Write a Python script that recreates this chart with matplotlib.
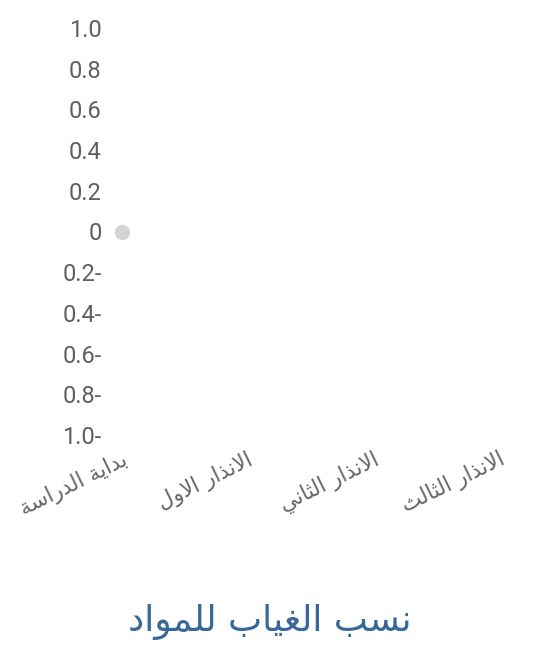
import numpy as np
import matplotlib.pyplot as plt
from matplotlib.transforms import ScaledTranslation

categories = ["بداية الدراسة", "الانذار الاول", "الانذار الثاني", "الانذار الثالث"]
values = [0, np.nan, np.nan, np.nan]
y_ticks = [1.0, 0.8, 0.6, 0.4, 0.2, 0, -0.2, -0.4, -0.6, -0.8, -1.0]
y_labels = ["1.0", "0.8", "0.6", "0.4", "0.2", "0", "0.2-", "0.4-", "0.6-", "0.8-", "1.0-"]
title = "نسب الغياب للمواد"

# contextual forms: isolated, final, initial, medial (None = does not join forward)
forms = {
    "ا": (0xFE8D, 0xFE8E, None, None),
    "ب": (0xFE8F, 0xFE90, 0xFE91, 0xFE92),
    "ة": (0xFE93, 0xFE94, None, None),
    "ت": (0xFE95, 0xFE96, 0xFE97, 0xFE98),
    "ث": (0xFE99, 0xFE9A, 0xFE9B, 0xFE9C),
    "د": (0xFEA9, 0xFEAA, None, None),
    "ذ": (0xFEAB, 0xFEAC, None, None),
    "ر": (0xFEAD, 0xFEAE, None, None),
    "س": (0xFEB1, 0xFEB2, 0xFEB3, 0xFEB4),
    "غ": (0xFECD, 0xFECE, 0xFECF, 0xFED0),
    "ل": (0xFEDD, 0xFEDE, 0xFEDF, 0xFEE0),
    "م": (0xFEE1, 0xFEE2, 0xFEE3, 0xFEE4),
    "ن": (0xFEE5, 0xFEE6, 0xFEE7, 0xFEE8),
    "و": (0xFEED, 0xFEEE, None, None),
    "ي": (0xFEF1, 0xFEF2, 0xFEF3, 0xFEF4),
    "لا": (0xFEFB, 0xFEFC, None, None),
}


def shape(text):
    # split into letters, merging lam + alef into one ligature
    letters = []
    i = 0
    while i < len(text):
        if text[i] == "ل" and i + 1 < len(text) and text[i + 1] == "ا":
            letters.append("لا")
            i += 2
        else:
            letters.append(text[i])
            i += 1
    out = []
    for k, ch in enumerate(letters):
        if ch not in forms:
            out.append(ch)
            continue
        prev = letters[k - 1] if k > 0 else None
        nxt = letters[k + 1] if k + 1 < len(letters) else None
        join_prev = prev in forms and forms[prev][2] is not None
        join_next = nxt in forms and forms[ch][2] is not None
        f = forms[ch]
        if join_prev and join_next:
            code = f[3]
        elif join_prev:
            code = f[1]
        elif join_next:
            code = f[2]
        else:
            code = f[0]
        out.append(chr(code))
    return "".join(out)[::-1]


fig = plt.figure(figsize=(5.52, 6.65), dpi=100)
ax = fig.add_axes([110 / 552, 1 - 435 / 665, (545 - 110) / 552, (435 - 28) / 665])

x = np.arange(len(categories))
ax.plot(x, values, "o", color="#d4d4d8", markersize=10, clip_on=False)

ax.set_xlim(-0.095, 3.357)
ax.set_ylim(-1.0, 1.0)
ax.set_yticks(y_ticks)
ax.set_yticklabels(y_labels, fontsize=17, color="#5f5f5f", family="Roboto")
ax.tick_params(axis="y", length=0, pad=6)

ax.set_xticks(x)
ax.set_xticklabels([shape(c) for c in categories], rotation=26, ha="right", va="center",
                   rotation_mode="anchor", fontsize=15.5, color="#666666", family="DejaVu Sans")
ax.tick_params(axis="x", length=0, pad=17)
shift = ScaledTranslation(4 / 100, 0, fig.dpi_scale_trans)
for lbl in ax.get_xticklabels():
    lbl.set_transform(lbl.get_transform() + shift)

for s in ax.spines.values():
    s.set_visible(False)

fig.text(270 / 552, 1 - 622 / 665, shape(title), ha="center", va="center", fontsize=26,
         color="#386898", family="DejaVu Sans")

fig.savefig("out.png", dpi=100)
